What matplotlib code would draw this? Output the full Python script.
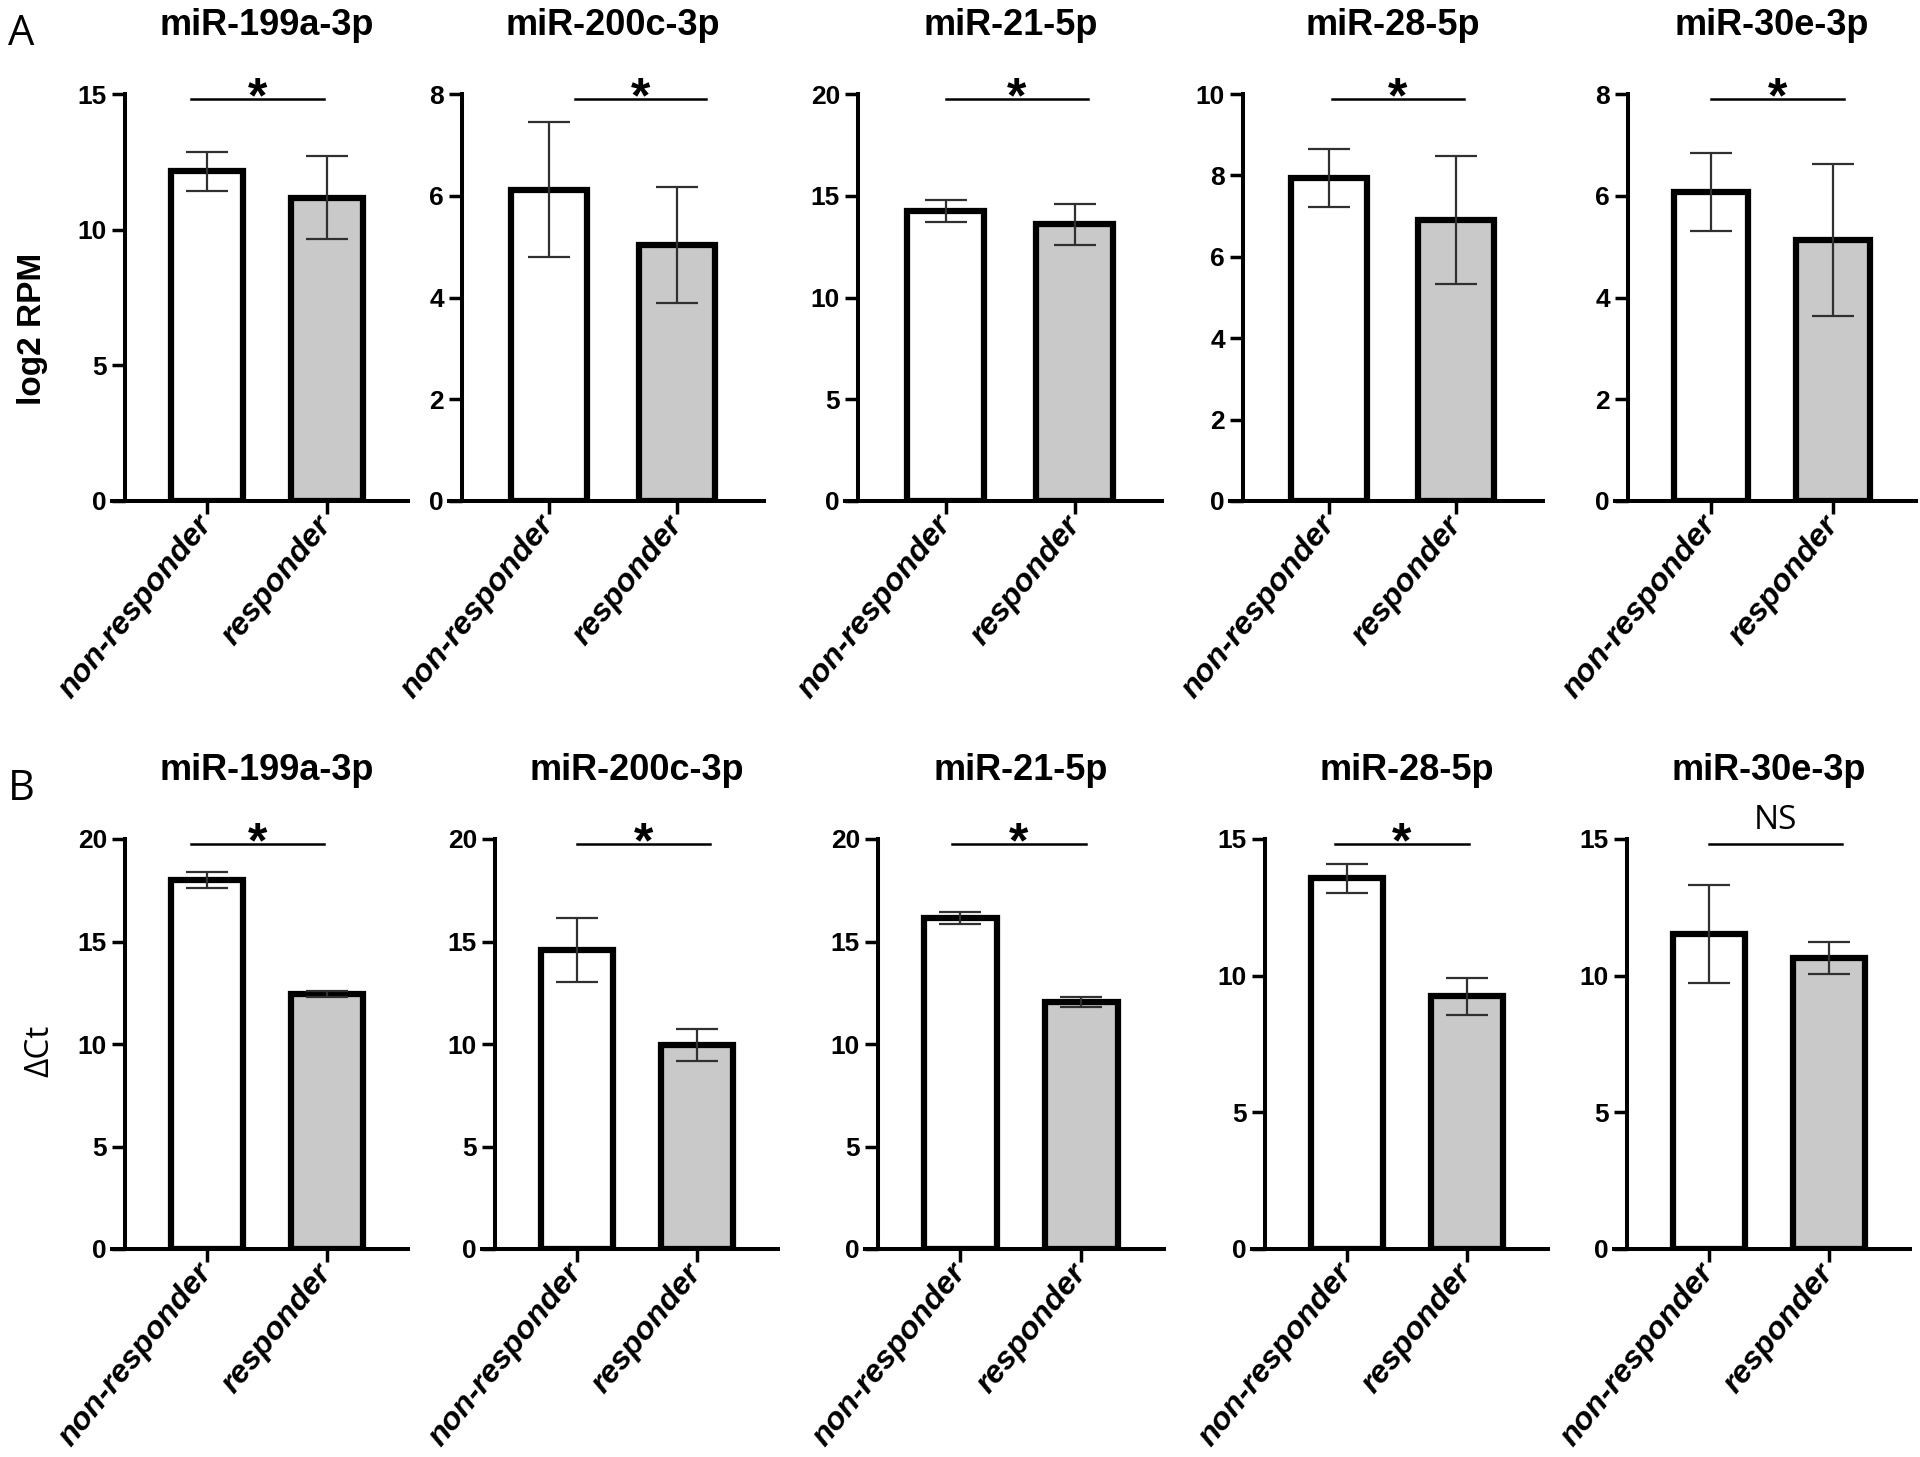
import numpy as np
import matplotlib
matplotlib.use("Agg")
import matplotlib.pyplot as plt

# ---- data ----
mirnas = ['miR-199a-3p', 'miR-200c-3p', 'miR-21-5p', 'miR-28-5p', 'miR-30e-3p']
groups = ['non-responder', 'responder']

rpm_nonresp = [12.15, 6.12, 14.26, 7.94, 6.08]
rpm_nonresp_sd = [0.72, 1.32, 0.53, 0.71, 0.77]
rpm_resp = [11.18, 5.04, 13.59, 6.90, 5.13]
rpm_resp_sd = [1.54, 1.14, 1.00, 1.57, 1.50]
rpm_ymax = [15, 8, 20, 10, 8]
rpm_ystep = [5, 2, 5, 2, 2]
rpm_sig = ['*', '*', '*', '*', '*']

dct_nonresp = [18.02, 14.60, 16.13, 13.56, 11.52]
dct_nonresp_sd = [0.39, 1.56, 0.29, 0.52, 1.79]
dct_resp = [12.45, 9.95, 12.05, 9.24, 10.65]
dct_resp_sd = [0.15, 0.77, 0.23, 0.69, 0.60]
dct_ymax = [20, 20, 20, 15, 15]
dct_ystep = [5, 5, 5, 5, 5]
dct_sig = ['*', '*', '*', '*', 'NS']

# ---- layout (pixels of the 1920x1457 canvas) ----
W, H = 1920, 1457
MARGIN = 0.68
a_left = [125, 462, 858, 1243, 1628]
a_step = [120, 128, 129, 127, 122]
a_top, a_bot = 94, 501
a_brk = [(-0.13, 0.975), (0.2, 1.23), (0.0, 1.10), (0.02, 1.06), (0.0, 1.09)]
b_left = [125, 495, 878, 1265, 1627]
b_step = [120, 120, 121, 120, 120]
b_top, b_bot = 839, 1249
b_brk = [(-0.13, 0.975), (0.0, 1.11), (-0.07, 1.04), (-0.1, 1.02), (0.0, 1.11)]

BOLD = dict(family='Liberation Sans', weight='bold')
GRAY = '#c9c9c9'

plt.rcParams['font.family'] = ['Liberation Sans', 'DejaVu Sans']

fig = plt.figure(figsize=(W / 100, H / 100), dpi=100)


def make_axes(left, step, top, bot):
    width = step * (1 + 2 * MARGIN)
    return fig.add_axes([left / W, (H - bot) / H, width / W, (bot - top) / H])


def draw(ax, step, title, means, sds, ymax, ystep, sig, brk, top_px, bot_px):
    ax.bar([0, 1], means, width=0.6, color=['white', GRAY],
           edgecolor='black', linewidth=4.5, zorder=2)
    ax.errorbar([0, 1], means, yerr=sds, fmt='none', ecolor='#303030',
                elinewidth=1.6, capsize=15, capthick=1.6, zorder=3)
    ax.set_xlim(-MARGIN, 1 + MARGIN)
    ax.set_ylim(0, ymax)
    yt = np.arange(0, ymax + 0.01, ystep)
    ax.set_yticks(yt)
    ax.set_yticklabels([str(int(v)) for v in yt], fontsize=19, **BOLD)
    ax.set_xticks([0, 1])
    ax.set_xticklabels(groups, rotation=51, ha='right', va='center',
                       rotation_mode='anchor', fontsize=23, fontstyle='italic', **BOLD)
    for s in ['top', 'right']:
        ax.spines[s].set_visible(False)
    for s in ['left', 'bottom']:
        ax.spines[s].set_linewidth(2.9)
    ax.spines['bottom'].set_bounds(-MARGIN - 13.0 / step, 1 + MARGIN)
    ax.tick_params(axis='both', length=9.5, width=2.5, pad=3.5)
    ax.tick_params(axis='x', pad=4)

    hpx = bot_px - top_px
    ax.text(0.5, 1 + 59.0 / hpx, title, transform=ax.transAxes, ha='center',
            va='baseline', fontsize=26, **BOLD)
    line_y = 1 - 5.0 / hpx
    ax.plot(brk, [line_y, line_y], color='black', lw=1.8,
            transform=ax.get_xaxis_transform(), clip_on=False)
    xm = (brk[0] + brk[1]) / 2
    if sig == 'NS':
        ax.text(xm, line_y + 7.0 / hpx, sig, transform=ax.get_xaxis_transform(),
                ha='center', va='bottom', fontsize=24, family='Open Sans')
    else:
        ax.text(xm, line_y - 13.0 / hpx, sig, transform=ax.get_xaxis_transform(),
                ha='center', va='baseline', fontsize=36, **BOLD)


for i in range(5):
    ax = make_axes(a_left[i], a_step[i], a_top, a_bot)
    draw(ax, a_step[i], mirnas[i], [rpm_nonresp[i], rpm_resp[i]],
         [rpm_nonresp_sd[i], rpm_resp_sd[i]], rpm_ymax[i], rpm_ystep[i],
         rpm_sig[i], a_brk[i], a_top, a_bot)

for i in range(5):
    ax = make_axes(b_left[i], b_step[i], b_top, b_bot)
    draw(ax, b_step[i], mirnas[i], [dct_nonresp[i], dct_resp[i]],
         [dct_nonresp_sd[i], dct_resp_sd[i]], dct_ymax[i], dct_ystep[i],
         dct_sig[i], b_brk[i], b_top, b_bot)

fig.text(33 / W, 1 - 329 / H, 'log2 RPM', rotation=90, ha='center', va='center',
         fontsize=24, **BOLD)
fig.text(40 / W, 1 - 1051 / H, '\u0394Ct', rotation=90, ha='center', va='center',
         fontsize=24, family='Open Sans')
fig.text(8 / W, 1 - 45 / H, 'A', ha='left', va='baseline', fontsize=30, family='Open Sans')
fig.text(8 / W, 1 - 800 / H, 'B', ha='left', va='baseline', fontsize=30, family='Open Sans')

fig.savefig('out.png', dpi=100)
